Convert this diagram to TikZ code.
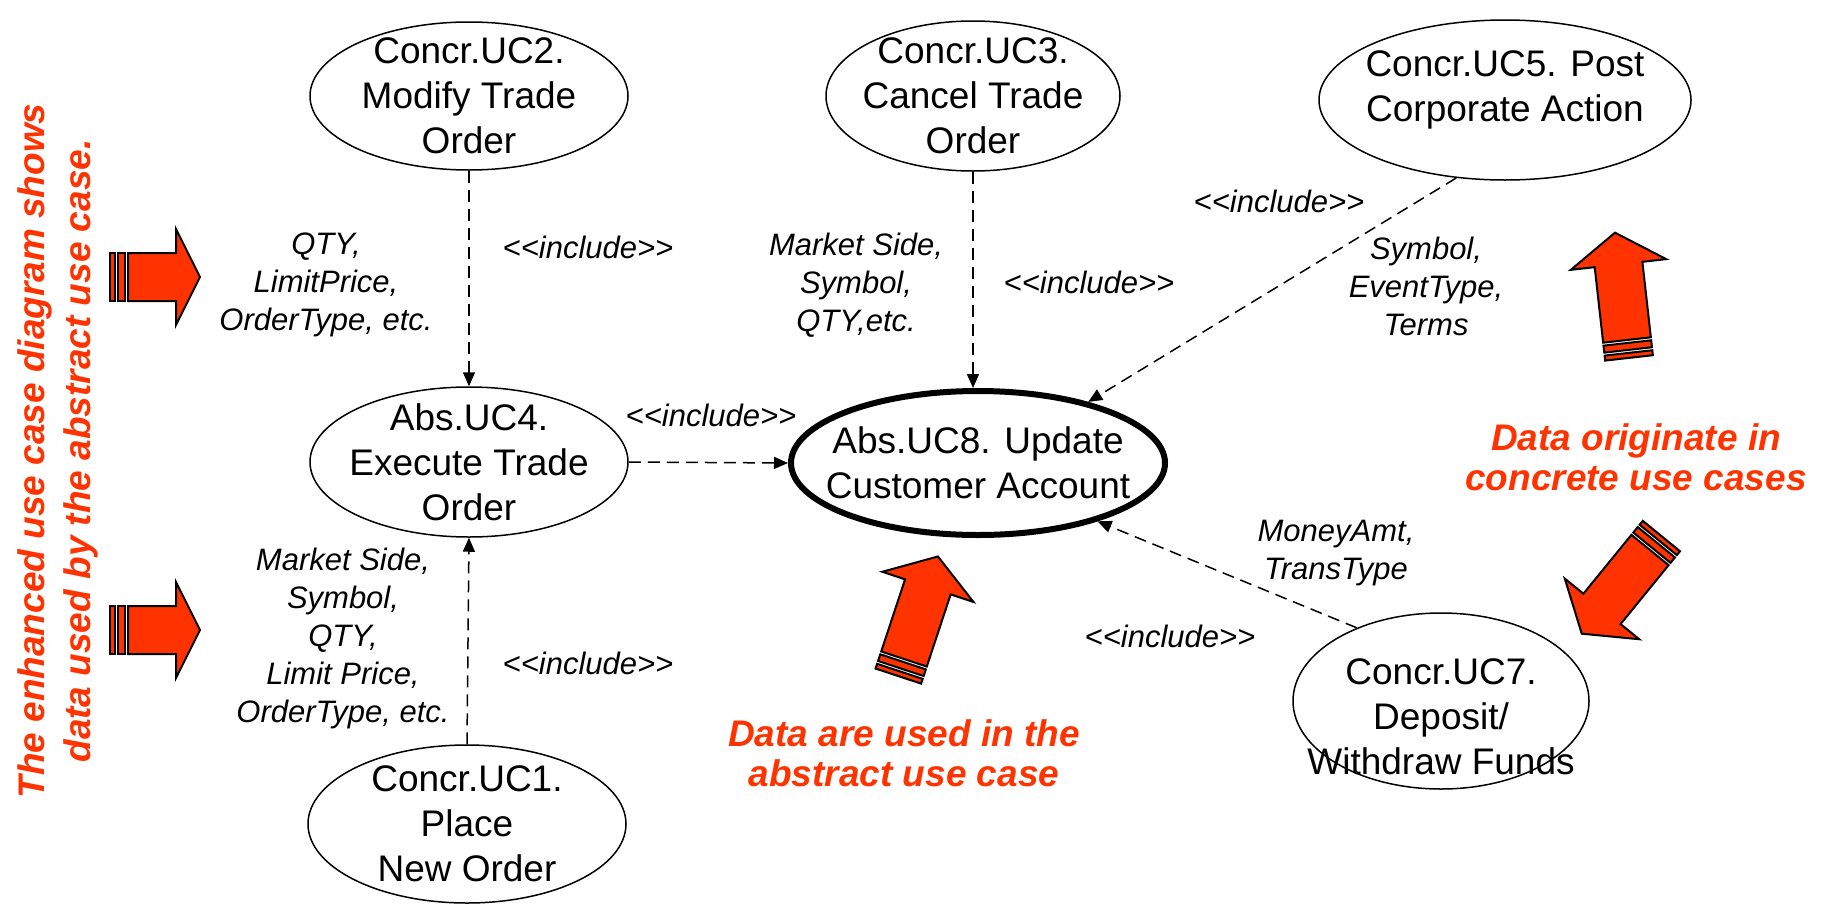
\documentclass[tikz,border=0pt]{standalone}
\usepackage{fontspec}
\setmainfont{Liberation Sans}
\usetikzlibrary{shapes.geometric,arrows.meta}
\definecolor{alertred}{RGB}{255,51,0}
\newcommand\inclabel{<\kern0pt<include>\kern0pt>}
\begin{document}
\begin{tikzpicture}[x=0.5pt, y=-0.5pt,
  ucfont/.style={font=\fontsize{18.5}{22.5}\selectfont},
  uc/.style={ellipse, draw, line width=0.75pt, align=center, inner sep=-40pt, ucfont},
  uctext/.style={ucfont, align=center, inner sep=0pt},
  inc/.style={line width=0.75pt, dash pattern=on 6pt off 3.5pt,
              -{Triangle[length=7pt,width=6pt]}},
  lbl/.style={font=\fontsize{15.5}{19}\selectfont\itshape, align=center, inner sep=0pt},
  note/.style={text=alertred, font=\fontsize{18.5}{20}\selectfont\bfseries\itshape,
               align=center, inner sep=0pt},
  arrowpart/.style={draw=black, line width=1pt, fill=alertred, line join=miter},
  % block arrow with two bands behind it: #1 shaft length, #2 head length
  pics/stripedarrow/.style n args={2}{code={
    \path[arrowpart] (-18,-24) rectangle (-13,24);
    \path[arrowpart] (-10,-24) rectangle (-3,24);
    \path[arrowpart] (0,-24) -- (#1,-24) -- (#1,-48) -- ({#1+#2},0)
                     -- (#1,48) -- (#1,24) -- (0,24) -- cycle;
  }}]

\useasboundingbox (0,0) rectangle (1821,905);

% use cases
\node[uc, minimum width=159pt, minimum height=74pt] (uc2) at (469,96)
  {Concr.UC2.\\Modify Trade\\Order};
\node[uc, minimum width=147pt, minimum height=75pt] (uc3) at (973,96)
  {Concr.UC3.\\Cancel Trade\\Order};
\node[uc, minimum width=186pt, minimum height=80pt] (uc5) at (1505,100) {};
\node[uctext] (uc5txt) at (1505,90) {Concr.UC5. Post\\Corporate Action};
\node[uc, minimum width=159pt, minimum height=75pt] (uc4) at (469,462)
  {Abs.UC4.\\Execute Trade\\Order};
\node[uc, line width=3pt, minimum width=187pt, minimum height=72pt] (uc8) at (978,463)
  {Abs.UC8. Update\\Customer Account};
\node[uc, minimum width=159pt, minimum height=79pt] (uc1) at (467,824)
  {Concr.UC1.\\Place\\New Order};
\node[uc, minimum width=148pt, minimum height=88pt] (uc7) at (1441,701) {};
\node[uctext] (uc7txt) at (1441,717) {Concr.UC7.\\Deposit/\\Withdraw Funds};

% include relations
\draw[inc] (uc2.south) -- (uc4.north);
\draw[inc] (uc1.north) -- (uc4.south);
\draw[inc] (uc3.south) -- (uc3.south |- uc8.north);
\draw[inc] (uc4.east) -- (uc8.west);
\draw[inc] (uc5.238) -- (uc8.29);
\draw[inc] (uc7.139) -- (uc8.334);

% relation labels
\node[lbl] (i24) at (588,247) {\inclabel};
\node[lbl] (d24) at (326,285) {QTY,\\LimitPrice,\\OrderType, etc.};
\node[lbl] (d38) at (856,285) {Market Side,\\Symbol,\\QTY,etc.};
\node[lbl] (i38) at (1089,282) {\inclabel};
\node[lbl] (i48) at (711,415) {\inclabel};
\node[lbl] (i58) at (1279,201) {\inclabel};
\node[lbl] (d58) at (1426,286) {Symbol,\\EventType,\\Terms};
\node[lbl] (d78) at (1336,553) {MoneyAmt,\\TransType};
\node[lbl] (i78) at (1170,636) {\inclabel};
\node[lbl] (i14) at (588,663) {\inclabel};
\node[lbl] (d14) at (343,638) {Market Side,\\Symbol,\\QTY,\\Limit Price,\\OrderType, etc.};

% block arrows
\pic at (128,277) {stripedarrow={48}{24}};
\pic at (128,630) {stripedarrow={48}{24}};
\pic[rotate=71.7] at (904,659) {stripedarrow={76}{32}};
\pic[rotate=96.4] at (1627,340) {stripedarrow={76}{32}};
\pic[rotate=230.8] at (1650,550) {stripedarrow={76}{32}};

% notes
\node[note] (usednote) at (904,753) {Data are used in the\\abstract use case};
\node[note] (orignote) at (1636,457) {Data originate in\\concrete use cases};
\node[note, rotate=90, font=\fontsize{18.5}{23}\selectfont\bfseries\itshape] (sidenote)
  at (58,451) {The enhanced use case diagram shows\\data used by the abstract use case.};
\end{tikzpicture}
\end{document}
